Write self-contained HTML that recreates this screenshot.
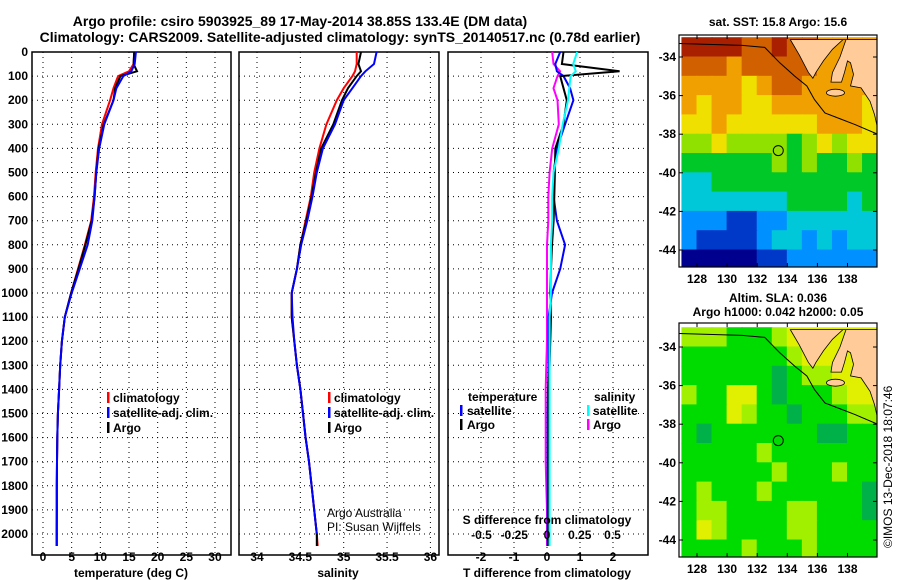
<!DOCTYPE html>
<html><head><meta charset="utf-8"><style>
body{margin:0;background:#fff}
svg{display:block;font-family:"Liberation Sans",sans-serif;font-weight:bold}
</style></head><body>
<svg id="c" width="900" height="580" viewBox="0 0 900 580">
<text x="300" y="26" font-size="14" text-anchor="middle">Argo profile: csiro 5903925_89 17-May-2014 38.85S 133.4E (DM data)</text>
<text x="340" y="42" font-size="14" text-anchor="middle">Climatology: CARS2009. Satellite-adjusted climatology: synTS_20140517.nc (0.78d earlier)</text>
<text x="778" y="26" font-size="12" text-anchor="middle">sat. SST: 15.8 Argo: 15.6</text>
<text x="778" y="302" font-size="12" text-anchor="middle">Altim. SLA: 0.036</text>
<text x="778" y="316" font-size="12" text-anchor="middle">Argo h1000: 0.042 h2000: 0.05</text>
<text transform="translate(892,548) rotate(-90)" font-size="12" font-weight="normal">©IMOS 13-Dec-2018 18:07:46</text>
<g id="g"></g>
</svg>
<script>
const depths=[0,50,80,100,150,200,300,400,500,600,700,800,900,1000,1100,1200,1300,1400,1500,1600,1700,1800,1900,2000,2050];
const climT=[15.9,15.8,15.0,13.1,12.3,11.7,10.3,9.6,9.2,8.9,8.4,7.3,6.1,4.9,3.8,3.3,3.0,2.8,2.6,2.5,2.45,2.4,2.4,2.35,2.35];
const satT=[16.2,16.0,15.4,14.0,12.8,12.3,10.7,9.8,9.3,9.0,8.6,7.8,6.4,5.0,3.8,3.3,3.0,2.8,2.6,2.5,2.45,2.4,2.4,2.4,2.4];
const argoT=[15.9,15.8,16.4,13.5,12.6,12.3,10.6,9.7,9.3,9.0,8.5,7.4,6.2,4.9,3.8,3.3,3.0,2.8,2.6,2.5,2.45,2.4,2.4,2.4,2.4];
const climS=[35.15,35.15,35.13,35.1,35.0,34.92,34.8,34.72,34.66,34.62,34.56,34.5,34.46,34.4,34.4,34.43,34.46,34.5,34.53,34.56,34.6,34.63,34.66,34.69,34.7];
const satS=[35.38,35.35,35.25,35.2,35.1,35.0,34.9,34.76,34.69,34.64,34.58,34.51,34.46,34.4,34.41,34.43,34.46,34.5,34.53,34.56,34.6,34.63,34.66,34.69,34.69];
const argoS=[35.2,35.17,35.2,35.15,35.05,34.98,34.88,34.74,34.68,34.63,34.57,34.5,34.46,34.4,34.4,34.43,34.46,34.5,34.53,34.56,34.6,34.63,34.66,34.69,34.69];
const dTsat=[0.4,0.25,0.3,0.5,0.7,0.8,0.55,0.3,0.2,0.2,0.3,0.55,0.4,0.15,0.05,0.05,0.05,0.03,0.02,0.02,0.02,0.02,0.02,0.02,0.02];
const dTargo=[0.5,0.45,2.2,0.4,0.5,0.6,0.5,0.25,0.24,0.22,0.2,0.15,0.12,0.1,0.12,0.1,0.08,0.05,0.05,0.05,0.03,0.03,0.03,0.03,0.03];
const dSsat=[0.23,0.2,0.22,0.18,0.17,0.16,0.12,0.09,0.05,0.04,0.04,0.03,0.03,0.03,0.02,0.02,0.02,0.02,0.02,0.02,0.02,0.02,0.02,0.02,0.02];
const dSargo=[0.04,0.05,0.1,0.08,0.05,0.08,0.09,0.04,0.02,0.01,0.01,0,0,0,0,0,-0.005,-0.01,-0.01,-0.01,-0.01,-0.005,0,0,0];
const depthTicks=[0,100,200,300,400,500,600,700,800,900,1000,1100,1200,1300,1400,1500,1600,1700,1800,1900,2000];
const tTicks=[0,5,10,15,20,25,30];
const sTicks=[34,34.5,35,35.5,36];
const dTTicks=[-2,-1,0,1,2];
const dSTicks=[-0.5,-0.25,0,0.25,0.5];
const dSLabels=["-0.5","-0.25","0","0.25","0.5"];
const lonTicks=[128,130,132,134,136,138];
const latTicks=[-34,-36,-38,-40,-42,-44];
const sstGrid=[
[9,9,9,9,8,8,9,8,8,7,7,7,7],
[8,8,8,7,8,8,8,8,8,7,7,7,7],
[7,7,7,7,6,7,8,8,7,7,7,7,7],
[7,6,7,7,6,6,7,7,7,7,7,7,6],
[6,6,7,6,6,6,6,6,6,7,7,7,6],
[5,5,6,5,5,5,5,4,5,6,5,6,6],
[4,4,4,4,4,4,5,4,5,4,4,5,4],
[3,3,4,4,4,4,4,4,4,4,4,4,4],
[3,3,3,3,3,3,3,4,4,4,4,3,4],
[2,2,2,1,1,2,2,3,3,3,3,3,3],
[2,1,1,1,1,2,3,3,2,3,2,3,3],
[0,0,0,0,0,1,1,2,2,2,2,2,2]];
const slaGrid=[
[2,2,2,1,1,1,2,3,3,3,3,3,3],
[1,1,1,1,1,1,1,2,3,3,3,3,3],
[1,1,1,1,1,1,0,1,2,2,3,3,3],
[2,1,1,3,3,1,0,1,1,1,2,3,3],
[1,1,1,3,2,1,1,0,1,1,1,2,2],
[1,0,1,1,1,1,1,1,1,0,0,1,1],
[1,1,1,1,1,2,1,1,1,1,1,1,1],
[1,1,1,1,1,1,2,1,1,1,2,1,1],
[1,2,1,1,1,2,1,1,1,1,1,1,0],
[1,2,2,1,1,1,1,2,2,1,1,1,0],
[1,3,2,1,1,1,1,2,2,1,1,1,1],
[1,1,1,1,2,1,1,1,2,1,1,1,1]];
const sstColors=["#00008f","#0038c8","#0090ff","#00c8d8","#00c828","#90e000","#f0e000","#f0a000","#d06000","#a82000"];
const slaColors=["#00b048","#00dc00","#a0f000","#e0f000"];
const land=[[134.2,-33.1],[134.8,-33.9],[135.4,-34.8],[135.7,-35.1],[135.9,-34.8],[136.4,-34.2],[137.0,-33.6],[137.7,-33.1],[137.9,-33.1],[137.5,-34.0],[137.0,-34.8],[136.9,-35.3],[137.6,-35.3],[137.8,-34.8],[138.0,-34.2],[138.2,-34.3],[138.4,-34.9],[138.2,-35.5],[138.9,-35.6],[139.5,-36.3],[139.8,-37.0],[140,-37.7],[140,-33.1]];
const shelf=[[126.8,-33.3],[131,-33.4],[132.5,-33.5],[133.5,-34.3],[134.5,-35.0],[135.3,-35.5],[135.8,-36.2],[136.5,-36.9],[137.5,-37.2],[138.5,-37.5],[140,-38]];
const argoPos=[133.4,-38.85];

const NS="http://www.w3.org/2000/svg";
const G=document.getElementById('g');
function mk(tag,at,parent){const e=document.createElementNS(NS,tag);for(const k in at)e.setAttribute(k,at[k]);(parent||G).appendChild(e);return e;}
const Y0=52,YK=0.241,PB=555;
const yD=d=>Y0+d*YK;
function panel(x0,x1,name){
  const f=mk('rect',{x:x0,y:Y0,width:x1-x0,height:PB-Y0,fill:'none',stroke:'#000','stroke-width':1.5});
  
  
  depthTicks.forEach(d=>{
    const l=mk('line',{x1:x0,x2:x1,y1:yD(d),y2:yD(d),stroke:'#000','stroke-dasharray':'1 4','stroke-width':1});
    
    
  });
}
function vgrid(xs,sc,name){xs.forEach(v=>{const l=mk('line',{x1:sc(v),x2:sc(v),y1:Y0,y2:PB,stroke:'#000','stroke-dasharray':'1 4','stroke-width':1});
  
  });}
function xlabels(xs,sc,y,labels,name){xs.forEach((v,i)=>{const t=mk('text',{x:sc(v),y:y,'font-size':12,'text-anchor':'middle'});t.textContent=labels?labels[i]:String(v);
  
  });}
function curve(vals,sc,color,name,w){const pts=[];vals.forEach((v,i)=>{if(v!==null)pts.push(sc(v).toFixed(1)+','+yD(depths[i]).toFixed(1));});
  const p=mk('polyline',{points:pts.join(' '),fill:'none',stroke:color,'stroke-width':w||2});
  
  }
function text(x,y,s,name,size,anchor,weight){const t=mk('text',{x:x,y:y,'font-size':size||12,'text-anchor':anchor||'start','font-weight':weight||'bold'});t.textContent=s;
  
  return t;}
function legendBar(x,y,color,name){const r=mk('rect',{x:x,y:y-10,width:2.5,height:11,fill:color});
  
  }

// Panel 1 temperature
const xT=v=>43+v*5.733;
panel(32,231,'temperature-panel');
vgrid(tTicks,xT,'temperature-gridline');
curve(climT,xT,'#f00','climatology-temperature-line');
curve(argoT,xT,'#000','argo-temperature-line');
curve(satT,xT,'#00f','satellite-temperature-line');
xlabels(tTicks,xT,561,null,'temperature-tick-label');
text(131,577,'temperature (deg C)','temperature-axis-title',12,'middle');
depthTicks.forEach(d=>text(28,yD(d)+4,String(d),'depth-tick-label',12,'end'));
[['climatology','#f00'],['satellite-adj. clim.','#00f'],['Argo','#000']].forEach((e,i)=>{legendBar(107,402+i*15,e[1],'legend-marker');text(113,402+i*15,e[0],'legend-entry');});

// Panel 2 salinity
const xS=v=>257+(v-34)*86.7;
panel(239,439,'salinity-panel');
vgrid(sTicks,xS,'salinity-gridline');
curve(climS,xS,'#f00','climatology-salinity-line');
curve(argoS,xS,'#000','argo-salinity-line');
curve(satS.slice(0,24).concat([null]),xS,'#00f','satellite-salinity-line');
xlabels(sTicks,xS,561,null,'salinity-tick-label');
text(338,577,'salinity','salinity-axis-title',12,'middle');
[['climatology','#f00'],['satellite-adj. clim.','#00f'],['Argo','#000']].forEach((e,i)=>{legendBar(328,402+i*15,e[1],'legend-marker');text(334,402+i*15,e[0],'legend-entry');});
text(327,517,'Argo Australia','credit-argo-australia',12,'start','normal');
text(327,531,'PI: Susan Wijffels','credit-pi',12,'start','normal');

// Panel 3 differences
const xdT=v=>547+v*33;
const xdS=v=>547+v*131;
panel(448,648,'difference-panel');
vgrid(dTTicks,xdT,'difference-gridline');
curve(dSargo,xdS,'#f0f','argo-salinity-diff-line');
curve(dTsat,xdT,'#00f','satellite-temperature-diff-line');
curve(dTargo,xdT,'#000','argo-temperature-diff-line');
curve(dSsat,xdS,'#0ff','satellite-salinity-diff-line');
xlabels(dTTicks,xdT,561,null,'t-diff-tick-label');
text(547,577,'T difference from climatology','t-diff-axis-title',12,'middle');
text(547,524,'S difference from climatology','s-diff-axis-title',12,'middle');
xlabels(dSTicks,xdS,539,dSLabels,'s-diff-tick-label');
text(468,401,'temperature','legend-temperature-heading');
legendBar(460,415,'#00f','legend-marker');text(467,415,'satellite','legend-entry');
legendBar(460,429,'#000','legend-marker');text(467,429,'Argo','legend-entry');
text(594,401,'salinity','legend-salinity-heading');
legendBar(587,415,'#0ff','legend-marker');text(593,415,'satellite','legend-entry');
legendBar(587,429,'#f0f','legend-marker');text(593,429,'Argo','legend-entry');

// Maps
function map(top,bottom,lat34y,lat44y,grid,colors,name){
  const lx=v=>697+(v-128)*15.05;
  const ly=v=>lat34y+(-34-v)*(lat44y-lat34y)/10;
  const L=679,R=877;
  const cg=mk('g',{});
  
  
  const clip=mk('clipPath',{id:name+'clip'});mk('rect',{x:L,y:top,width:R-L,height:bottom-top},clip);
  cg.setAttribute('clip-path','url(#'+name+'clip)');
  grid.forEach((row,r)=>row.forEach((v,c)=>{
    const x=lx(127+c),y=ly(-33-r);
    const cell=mk('rect',{x:x-0.5,y:y-0.5,width:lx(128+c)-x+1,height:ly(-34-r)-y+1,fill:colors[v]},cg);
    
    
  }));
  const lp=mk('polygon',{points:land.map(p=>lx(p[0])+','+ly(p[1])).join(' '),fill:'#ffcc99',stroke:'#000','stroke-width':0.8},cg);
  
  
  const ki=mk('ellipse',{cx:lx(137.2),cy:ly(-35.85),rx:9,ry:3.5,fill:'#ffcc99',stroke:'#000','stroke-width':0.8},cg);
  
  
  const sh=mk('polyline',{points:shelf.map(p=>lx(p[0])+','+ly(p[1])).join(' '),fill:'none',stroke:'#000','stroke-width':1},cg);
  
  
  const ci=mk('circle',{cx:lx(argoPos[0]),cy:ly(argoPos[1]),r:5,fill:'none',stroke:'#000','stroke-width':1});
  
  
  const fr=mk('rect',{x:L,y:top,width:R-L,height:bottom-top,fill:'none',stroke:'#000','stroke-width':1.2});
  
  
  lonTicks.forEach(v=>{mk('line',{x1:lx(v),x2:lx(v),y1:top,y2:top+4,stroke:'#000'});mk('line',{x1:lx(v),x2:lx(v),y1:bottom,y2:bottom-4,stroke:'#000'});
    text(lx(v),bottom+16,String(v),'map-lon-label',12,'middle');});
  latTicks.forEach(v=>{mk('line',{x1:L,x2:L+4,y1:ly(v),y2:ly(v),stroke:'#000'});mk('line',{x1:R,x2:R-4,y1:ly(v),y2:ly(v),stroke:'#000'});
    text(L-3,ly(v)+4,String(v),'map-lat-label',12,'end');});
}
map(35,267,57,250,sstGrid,sstColors,'sst-map');
map(323,557,347,540,slaGrid,slaColors,'sla-map');
</script>
</body></html>
